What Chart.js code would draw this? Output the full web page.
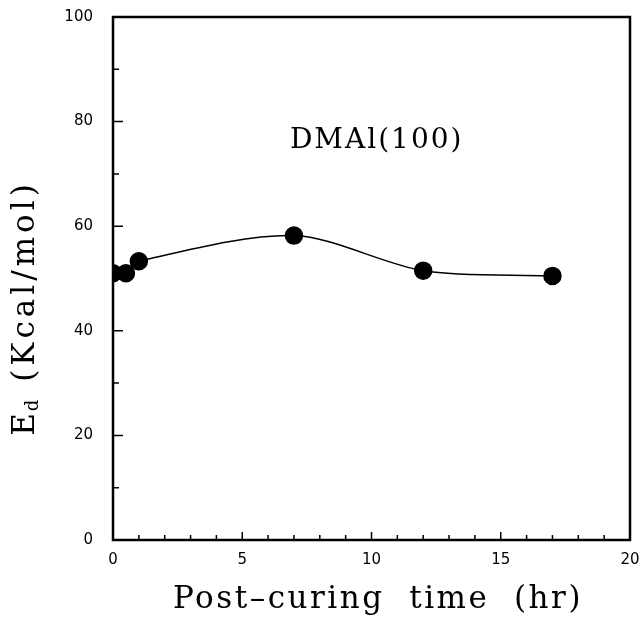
<!DOCTYPE html>
<html>
<head>
<meta charset="utf-8">
<script src="https://cdn.jsdelivr.net/npm/chart.js@4.4.1/dist/chart.umd.min.js"></script>
<style>
  html, body { margin: 0; padding: 0; background: #fff; }
  #wrap { width: 641px; height: 624px; }
</style>
</head>
<body>
<div id="wrap"><canvas id="ed"></canvas></div>
<script>
// Post-curing time (hr) vs activation energy
const hours = [0, 0.5, 1, 7, 12, 17];
const energy = [51.0, 51.0, 53.3, 58.2, 51.5, 50.5];
const xTicks = [0, 5, 10, 15, 20];
const yTicks = [0, 20, 40, 60, 80, 100];
const label = "DMAl(100)";

const serif = "'DejaVu Serif', 'Liberation Serif', serif";

// inside ticks, box frame, axis titles, annotation
const frame = {
    id: 'frame',
    afterDraw(chart) {
        const { ctx, chartArea: a, scales: { x, y } } = chart;
        ctx.save();
        ctx.strokeStyle = '#000';
        ctx.lineWidth = 1.5;
        ctx.beginPath();
        for (let v = 0; v <= 20; v++) {
            const px = x.getPixelForValue(v);
            const len = v % 5 ? 5 : 8;
            ctx.moveTo(px, a.bottom);
            ctx.lineTo(px, a.bottom - len);
        }
        for (let v = 0; v <= 100; v += 10) {
            const py = y.getPixelForValue(v);
            const len = v % 20 ? 6 : 10;
            ctx.moveTo(a.left, py);
            ctx.lineTo(a.left + len, py);
        }
        ctx.stroke();
        ctx.lineWidth = 2.5;
        ctx.strokeRect(a.left, a.top, a.width, a.height);

        ctx.fillStyle = '#000';
        // annotation
        ctx.font = '28px ' + serif;
        ctx.letterSpacing = '2px';
        ctx.textAlign = 'center';
        ctx.textBaseline = 'middle';
        ctx.fillText(label, x.getPixelForValue(10.2), y.getPixelForValue(76.3));

        // x title
        ctx.font = '31px ' + serif;
        ctx.letterSpacing = '2.5px';
        ctx.fillText('Post\u2013curing  time  (hr)', 378, 600);

        // y title with subscript
        ctx.letterSpacing = '4px';
        ctx.translate(26, 307);
        ctx.rotate(-Math.PI / 2);
        ctx.textAlign = 'left';
        ctx.textBaseline = 'middle';
        const big = '31px ' + serif, small = '18px ' + serif;
        ctx.font = big;
        const wE = ctx.measureText('E').width;
        const rest = ' (Kcal/mol)';
        const wR = ctx.measureText(rest).width;
        ctx.font = small;
        const wd = ctx.measureText('d').width;
        let cx = -(wE + wd + wR) / 2;
        ctx.font = big;
        ctx.fillText('E', cx, 0);
        cx += wE - 2;
        ctx.font = small;
        ctx.fillText('d', cx, 7);
        cx += wd;
        ctx.font = big;
        ctx.fillText(rest, cx, 0);
        ctx.restore();
    }
};

new Chart(document.getElementById('ed'), {
    type: 'scatter',
    data: {
        datasets: [{
            data: hours.map((h, i) => ({ x: h, y: energy[i] })),
            showLine: true,
            tension: 0.3,
            borderColor: '#000',
            borderWidth: 1.5,
            backgroundColor: '#000',
            pointRadius: 8.5,
            pointHoverRadius: 8.5,
        }]
    },
    options: {
        responsive: true,
        maintainAspectRatio: false,
        animation: false,
        events: [],
        layout: {
            padding: { top: 17, right: 11, left: 0, bottom: 0 }
        },
        plugins: {
            legend: { display: false },
            tooltip: { enabled: false },
        },
        scales: {
            x: {
                type: 'linear',
                min: 0,
                max: 20,
                afterFit(scale) {
                    scale.height = 84;
                    scale.paddingLeft = 0;
                    scale.paddingRight = 0;
                },
                afterBuildTicks(scale) { scale.ticks = xTicks.map(v => ({ value: v })); },
                grid: { display: false, drawTicks: false },
                border: { display: false },
                ticks: {
                    padding: 11,
                    color: '#000',
                    font: { family: "'DejaVu Sans', sans-serif", size: 15 },
                },
            },
            y: {
                type: 'linear',
                min: 0,
                max: 100,
                afterFit(scale) {
                    scale.width = 113;
                    scale.paddingTop = 0;
                    scale.paddingBottom = 0;
                },
                afterBuildTicks(scale) { scale.ticks = yTicks.map(v => ({ value: v })); },
                grid: { display: false, drawTicks: false },
                border: { display: false },
                ticks: {
                    padding: 20,
                    color: '#000',
                    font: { family: "'DejaVu Sans', sans-serif", size: 15 },
                },
            },
        },
    },
    plugins: [frame],
});
</script>
</body>
</html>
